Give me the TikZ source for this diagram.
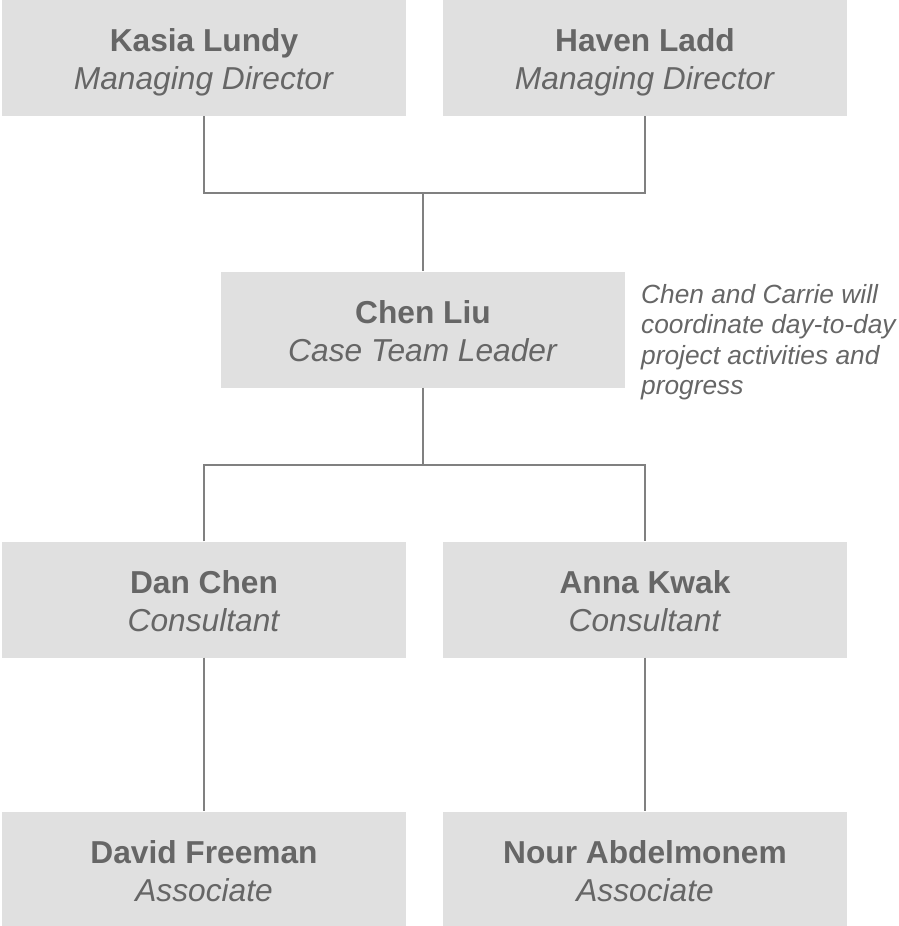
\documentclass[tikz,border=0pt]{standalone}
\usepackage{fontspec}
\setmainfont{Liberation Sans}
\usepackage{tikz}
\usetikzlibrary{positioning, calc}
\usepackage{xcolor}
\definecolor{boxgray}{HTML}{E0E0E0}
\definecolor{inkgray}{HTML}{666666}
\definecolor{linkgray}{HTML}{808080}

\newcommand{\orgentry}[2]{\rule{0pt}{32pt}\textbf{#1}\\\textit{#2}\rule[-6.5pt]{0pt}{6.5pt}}

\tikzset{
    person/.style={fill=boxgray, draw=none, minimum width=404pt, minimum height=116pt, inner sep=0pt, align=center, text=inkgray, font=\fontsize{31.7}{38}\selectfont},
    link/.style={draw=linkgray, line width=1.8pt},
    sidenote/.style={inner sep=0pt, align=left, text=inkgray, font=\fontsize{26.3}{30.5}\selectfont\itshape}
}

\begin{document}
\begin{tikzpicture}[x=1pt, y=-1pt]
    \useasboundingbox (0,0) rectangle (898,926);

    % managing directors
    \node[person] (kasia) at (204,58) {\orgentry{Kasia Lundy}{Managing Director}};
    \node[person] (haven) at (645,58) {\orgentry{Haven Ladd}{Managing Director}};

    % case team leader
    \node[person] (chen) at (423,329.5) {\orgentry{Chen Liu}{Case Team Leader}};
    \node[sidenote, anchor=north west] (remark) at (641,284) {Chen and Carrie will\\coordinate day-to-day\\project activities and\\progress};

    % consultants and associates
    \node[person] (dan) at (204,599.5) {\orgentry{Dan Chen}{Consultant}};
    \node[person] (anna) at (645,599.5) {\orgentry{Anna Kwak}{Consultant}};
    \node[person] (david) at (204,869.5) {\orgentry{David Freeman}{Associate}};
    \node[person] (nour) at (645,869.5) {\orgentry{Nour Abdelmonem}{Associate}};

    \coordinate (mdjoin) at (423,193);
    \coordinate (ctjoin) at (423,465);

    \draw[link] (kasia.south) |- (mdjoin) -| (haven.south);
    \draw[link] (mdjoin) -- (chen.north);
    \draw[link] (chen.south) -- (ctjoin);
    \draw[link] (dan.north) |- (ctjoin) -| (anna.north);
    \draw[link] (dan.south) -- (david.north);
    \draw[link] (anna.south) -- (nour.north);
\end{tikzpicture}
\end{document}
